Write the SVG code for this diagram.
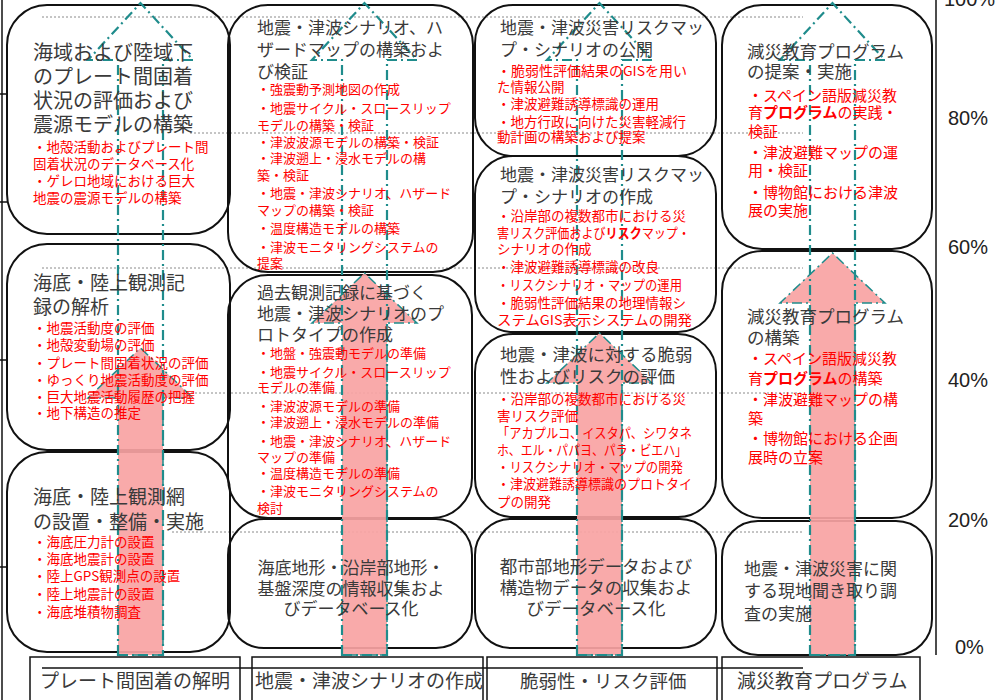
<svg xmlns="http://www.w3.org/2000/svg" width="997" height="700" viewBox="0 0 997 700">
<style>
.box{fill:none;stroke:#111;stroke-width:2}
.lab{fill:none;stroke:#111;stroke-width:1.5}
.ax{stroke:#111;stroke-width:1.5;fill:none}
.grid{stroke:#8a8a8a;stroke-width:1;stroke-dasharray:2 2;fill:none}
.tgt{fill:none;stroke:#1f8c8c;stroke-width:2.2;stroke-dasharray:10 4 2 4}
.prog{fill:#f9a3a3;fill-opacity:0.92;stroke:#1f8c8c;stroke-width:1.5;stroke-dasharray:10 4 2 4}
text{font-family:"Noto Sans CJK JP","Noto Sans CJK SC",sans-serif}
.t{fill:#3a3a3a}
.r{fill:#ff0000}
.pct{font-family:"Liberation Sans",Arial,sans-serif;font-size:20px;fill:#222}
</style>
<rect width="997" height="700" fill="#fff"/>
<g id="grid">
<line class="grid" x1="42" y1="17" x2="803" y2="17"/>
<line class="grid" x1="190" y1="133" x2="803" y2="133"/>
<line class="grid" x1="42" y1="268" x2="803" y2="268"/>
<line class="grid" x1="163" y1="393" x2="803" y2="393"/>
<line class="grid" x1="172" y1="532" x2="803" y2="532"/>
</g>
<g id="axes">
<line class="ax" x1="2" y1="0" x2="2" y2="700"/>
<line class="ax" x1="0" y1="94" x2="8" y2="94"/>
<line class="ax" x1="0" y1="202" x2="8" y2="202"/>
<line class="ax" x1="0" y1="360" x2="8" y2="360"/>
<line class="ax" x1="0" y1="567" x2="8" y2="567"/>
<line class="ax" x1="936" y1="0" x2="936" y2="655"/>
<text class="pct" x="944" y="6">100%</text>
<text class="pct" x="948" y="125">80%</text>
<text class="pct" x="948" y="254">60%</text>
<text class="pct" x="948" y="387">40%</text>
<text class="pct" x="948" y="527">20%</text>
<text class="pct" x="955" y="654">0%</text>
</g>
<g id="boxes">
<rect id="boxA1" class="box" x="7" y="5" width="223" height="229" rx="40"/>
<rect id="boxA2" class="box" x="7" y="244" width="223" height="206" rx="40"/>
<rect id="boxA3" class="box" x="7" y="452" width="223" height="200" rx="40"/>
<rect id="boxB1" class="box" x="228" y="5" width="245" height="267" rx="40"/>
<rect id="boxB2" class="box" x="228" y="275" width="244" height="243" rx="40"/>
<rect id="boxB3" class="box" x="228" y="519" width="244" height="129" rx="36"/>
<rect id="boxC1" class="box" x="475" y="5" width="241" height="151" rx="38"/>
<rect id="boxC2" class="box" x="475" y="156" width="241" height="176" rx="38"/>
<rect id="boxC3" class="box" x="475" y="334" width="241" height="183" rx="38"/>
<rect id="boxC4" class="box" x="475" y="519" width="241" height="129" rx="36"/>
<rect id="boxD1" class="box" x="722" y="5" width="210" height="244" rx="40"/>
<rect id="boxD2" class="box" x="722" y="251" width="210" height="267" rx="40"/>
<rect id="boxD3" class="box" x="722" y="521" width="210" height="134" rx="36"/>
</g>
<g id="connectors">
<path class="prog" d="M118,655 V398 H88 L140.5,348 L193,398 H163 V655 Z"/>
<path class="tgt" d="M118,655 V60 H88 L140.5,3 L193,60 H163 V655 Z"/>
<path class="prog" d="M342,655 V323 H312 L364.5,273 L417,323 H387 V655 Z"/>
<path class="tgt" d="M342,655 V60 H312 L364.5,3 L417,60 H387 V655 Z"/>
<path class="prog" d="M577,655 V383 H547 L599.5,333 L652,383 H622 V655 Z"/>
<path class="tgt" d="M577,655 V60 H547 L599.5,3 L652,60 H622 V655 Z"/>
<path class="prog" d="M810,655 V303 H780 L832.5,253 L885,303 H855 V655 Z"/>
<path class="tgt" d="M810,655 V60 H780 L832.5,3 L885,60 H855 V655 Z"/>
</g>
<g id="labels">
<line class="ax" x1="42" y1="668" x2="803" y2="668"/>
<g id="labelA"><rect class="lab" x="30" y="657" width="210" height="50"/><text class="t" x="40" y="688" font-size="19">プレート間固着の解明</text></g>
<g id="labelB"><rect class="lab" x="252" y="657" width="231" height="50"/><text class="t" x="255" y="688" font-size="19">地震・津波シナリオの作成</text></g>
<g id="labelC"><rect class="lab" x="487" y="657" width="230" height="50"/><text class="t" x="520" y="688" font-size="18.5">脆弱性・リスク評価</text></g>
<g id="labelD"><rect class="lab" x="722" y="657" width="198" height="50"/><text class="t" x="737" y="688" font-size="19">減災教育プログラム</text></g>
</g>
<g id="nodeA1">
<g class="t" font-size="20"><text x="33" y="60">海域および陸域下</text><text x="33" y="84">のプレート間固着</text><text x="33" y="108">状況の評価および</text><text x="33" y="132">震源モデルの構築</text></g>
<g class="r" font-size="13.5"><text x="33" y="152">・地殻活動およびプレート間</text><text x="33" y="169">固着状況のデータベース化</text><text x="33" y="186">・ゲレロ地域における巨大</text><text x="33" y="203">地震の震源モデルの構築</text></g>
</g>
<g id="nodeA2">
<g class="t" font-size="19"><text x="33" y="290">海底・陸上観測記</text><text x="33" y="314">録の解析</text></g>
<g class="r" font-size="13.5"><text x="33" y="333">・地震活動度の評価</text><text x="33" y="350">・地殻変動場の評価</text><text x="33" y="368">・プレート間固着状況の評価</text><text x="33" y="385">・ゆっくり地震活動度の評価</text><text x="33" y="402">・巨大地震活動履歴の把握</text><text x="33" y="418">・地下構造の推定</text></g>
</g>
<g id="nodeA3">
<g class="t" font-size="19"><text x="33" y="504">海底・陸上観測網</text><text x="33" y="529">の設置・整備・実施</text></g>
<g class="r" font-size="13.5"><text x="33" y="547">・海底圧力計の設置</text><text x="33" y="564">・海底地震計の設置</text><text x="33" y="581">・陸上GPS観測点の設置</text><text x="33" y="599">・陸上地震計の設置</text><text x="33" y="617">・海底堆積物調査</text></g>
</g>
<g id="nodeB1">
<g class="t" font-size="17"><text x="257" y="34">地震・津波シナリオ、ハ</text><text x="257" y="56">ザードマップの構築およ</text><text x="257" y="78">び検証</text></g>
<g class="r" font-size="13"><text x="257" y="94">・強震動予測地図の作成</text><text x="257" y="113">・地震サイクル・スロースリップ</text><text x="257" y="130">モデルの構築・検証</text><text x="257" y="147">・津波波源モデルの構築・検証</text><text x="257" y="163">・津波遡上・浸水モデルの構</text><text x="257" y="180">築・検証</text><text x="257" y="198">・地震・津波シナリオ、ハザード</text><text x="257" y="215">マップの構築・検証</text><text x="257" y="233">・温度構造モデルの構築</text><text x="257" y="252">・津波モニタリングシステムの</text><text x="257" y="268">提案</text></g>
</g>
<g id="nodeB2">
<g class="t" font-size="17"><text x="257" y="299">過去観測記録に基づく</text><text x="257" y="320">地震・津波シナリオのプ</text><text x="257" y="341">ロトタイプの作成</text></g>
<g class="r" font-size="13"><text x="257" y="358">・地盤・強震動モデルの準備</text><text x="257" y="377">・地震サイクル・スロースリップ</text><text x="257" y="392">モデルの準備</text><text x="257" y="411">・津波波源モデルの準備</text><text x="257" y="427">・津波遡上・浸水モデルの準備</text><text x="257" y="446">・地震・津波シナリオ、ハザード</text><text x="257" y="462">マップの準備</text><text x="257" y="478">・温度構造モデルの準備</text><text x="257" y="496">・津波モニタリングシステムの</text><text x="257" y="513">検討</text></g>
</g>
<g id="nodeB3">
<g class="t" font-size="17" text-anchor="middle"><text x="351" y="574">海底地形・沿岸部地形・</text><text x="351" y="595">基盤深度の情報収集およ</text><text x="351" y="615">びデータベース化</text></g>
</g>
<g id="nodeC1">
<g class="t" font-size="17"><text x="500" y="34">地震・津波災害リスクマッ</text><text x="500" y="56">プ・シナリオの公開</text></g>
<g class="r" font-size="13.5"><text x="497" y="76" textLength="190" lengthAdjust="spacingAndGlyphs">・脆弱性評価結果のGISを用い</text><text x="497" y="92">た情報公開</text><text x="497" y="109">・津波避難誘導標識の運用</text><text x="497" y="127">・地方行政に向けた災害軽減行</text><text x="497" y="142">動計画の構築および提案</text></g>
</g>
<g id="nodeC2">
<g class="t" font-size="17"><text x="500" y="181">地震・津波災害リスクマッ</text><text x="500" y="203">プ・シナリオの作成</text></g>
<g class="r" font-size="13.5"><text x="497" y="221">・沿岸部の複数都市における災</text><text x="497" y="238" textLength="193" lengthAdjust="spacingAndGlyphs">害リスク評価および<tspan font-weight="bold">リスク</tspan>マップ・</text><text x="497" y="254">シナリオの作成</text><text x="497" y="272">・津波避難誘導標識の改良</text><text x="497" y="290" textLength="185" lengthAdjust="spacingAndGlyphs">・リスクシナリオ・マップの運用</text><text x="497" y="308">・脆弱性評価結果の地理情報シ</text><text x="497" y="325" textLength="195" lengthAdjust="spacingAndGlyphs">ステムGIS表示システムの開発</text></g>
</g>
<g id="nodeC3">
<g class="t" font-size="17.5"><text x="500" y="361">地震・津波に対する脆弱</text><text x="500" y="383">性およびリスクの評価</text></g>
<g class="r" font-size="13.5"><text x="497" y="404">・沿岸部の複数都市における災</text><text x="497" y="421">害リスク評価</text><text x="497" y="438" textLength="195" lengthAdjust="spacingAndGlyphs">「アカプルコ、イスタパ、シワタネ</text><text x="497" y="455" textLength="190" lengthAdjust="spacingAndGlyphs">ホ、エル・パパヨ、パラ・ビエハ」</text><text x="497" y="472" textLength="186" lengthAdjust="spacingAndGlyphs">・リスクシナリオ・マップの開発</text><text x="497" y="489" textLength="195" lengthAdjust="spacingAndGlyphs">・津波避難誘導標識のプロトタイ</text><text x="497" y="507">プの開発</text></g>
</g>
<g id="nodeC4">
<g class="t" font-size="17.5" text-anchor="middle"><text x="596" y="573">都市部地形データおよび</text><text x="596" y="594">構造物データの収集およ</text><text x="596" y="615">びデータベース化</text></g>
</g>
<g id="nodeD1">
<g class="t" font-size="17.5"><text x="747" y="58">減災教育プログラム</text><text x="747" y="78">の提案・実施</text></g>
<g class="r" font-size="15"><text x="748" y="101">・スペイン語版減災教</text><text x="748" y="118">育<tspan font-weight="bold">プログラム</tspan>の実践・</text><text x="748" y="137">検証</text><text x="748" y="158">・津波避難マップの運</text><text x="748" y="176">用・検証</text><text x="748" y="198">・博物館における津波</text><text x="748" y="216">展の実施</text></g>
</g>
<g id="nodeD2">
<g class="t" font-size="17.5"><text x="747" y="323">減災教育プログラム</text><text x="747" y="344">の構築</text></g>
<g class="r" font-size="15"><text x="748" y="364">・スペイン語版減災教</text><text x="748" y="384">育<tspan font-weight="bold">プログラム</tspan>の構築</text><text x="748" y="405">・津波避難マップの構</text><text x="748" y="424">築</text><text x="748" y="444">・博物館における企画</text><text x="748" y="463">展時の立案</text></g>
</g>
<g id="nodeD3">
<g class="t" font-size="17"><text x="744" y="575">地震・津波災害に関</text><text x="744" y="597">する現地聞き取り調</text><text x="744" y="620">査の実施</text></g>
</g>
</svg>
